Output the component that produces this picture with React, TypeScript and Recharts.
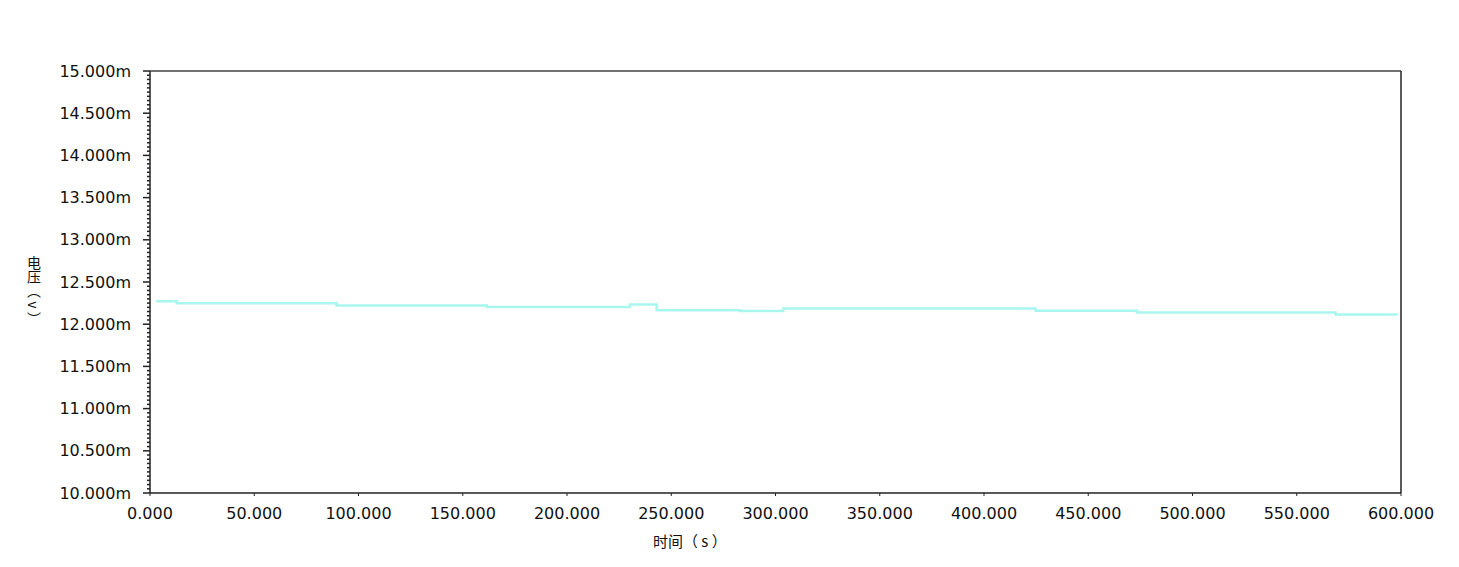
import { LineChart, Line, XAxis, YAxis, ReferenceLine } from "recharts";

// 时间 (s) / 电压 (mV), one point per level
const times = [3, 12.8, 89.5, 161.5, 230.2, 243, 283, 303.7, 424.7, 473.4, 568.6, 598.4];
const volts = [12.272, 12.249, 12.221, 12.205, 12.233, 12.166, 12.157, 12.185, 12.16, 12.14, 12.115, 12.115];

const xTicks = [0, 50, 100, 150, 200, 250, 300, 350, 400, 450, 500, 550, 600];
// every 0.05, labels only on the 0.5 steps
const yTicks = Array.from({ length: 101 }, (_, i) => Math.round((10 + i * 0.05) * 100) / 100);

const data = times.map((t, i) => ({ t, v: volts[i] }));

const AXIS = "#222";
const LINE = "#a8f6ee";
const NUM_FONT = { fontSize: 16, fill: "#111", fontFamily: "DejaVu Sans" };
const CJK = "Noto Sans CJK SC";

const isMajor = (v: number) => Math.abs(v * 2 - Math.round(v * 2)) < 1e-6;

function YTick(props: any) {
  const { x, y, payload } = props;
  const v = payload.value as number;
  const major = isMajor(v);
  return (
    <g>
      <line x1={x - (major ? 7 : 3)} x2={x} y1={y} y2={y} stroke={AXIS} strokeWidth={1.5} />
      {major && (
        <text x={x - 19} y={y} dy="0.355em" textAnchor="end" {...NUM_FONT}>
          {v.toFixed(3) + "m"}
        </text>
      )}
    </g>
  );
}

export default function App() {
  return (
    <div style={{ position: "absolute", left: 0, top: 0, width: 1459, height: 567, background: "#fff" }}>
      <LineChart width={1459} height={567} data={data} margin={{ top: 71, right: 58, bottom: 44, left: 0 }}>
        <XAxis
          dataKey="t"
          type="number"
          domain={[0, 600]}
          ticks={xTicks}
          tickFormatter={(v: number) => v.toFixed(3)}
          tick={NUM_FONT}
          tickSize={3}
          tickMargin={12}
          height={30}
          stroke={AXIS}
          axisLine={{ stroke: AXIS, strokeWidth: 1.5 }}
          interval={0}
        />
        <YAxis
          type="number"
          domain={[10, 15]}
          ticks={yTicks}
          tick={<YTick />}
          tickLine={false}
          tickSize={0}
          tickMargin={0}
          width={150}
          stroke={AXIS}
          axisLine={{ stroke: AXIS, strokeWidth: 1.5 }}
          interval={0}
        />
        <ReferenceLine y={15} stroke="#444" strokeWidth={1.5} />
        <ReferenceLine x={600} stroke={AXIS} strokeWidth={1.5} />
        <Line
          type="stepAfter"
          dataKey="v"
          stroke={LINE}
          strokeWidth={2.5}
          dot={false}
          isAnimationActive={false}
        />
        {/* y title, written top to bottom */}
        <text
          x={34}
          y={256}
          fontSize={14}
          fontFamily={CJK}
          fill="#111"
          style={{ writingMode: "vertical-rl", whiteSpace: "pre" }}
        >
          电压（ v ）
        </text>
      </LineChart>
      <div
        style={{
          position: "absolute",
          left: 653,
          top: 530,
          fontSize: 15,
          fontFamily: CJK,
          color: "#111",
          whiteSpace: "pre",
        }}
      >
        时间（ s ）
      </div>
    </div>
  );
}
